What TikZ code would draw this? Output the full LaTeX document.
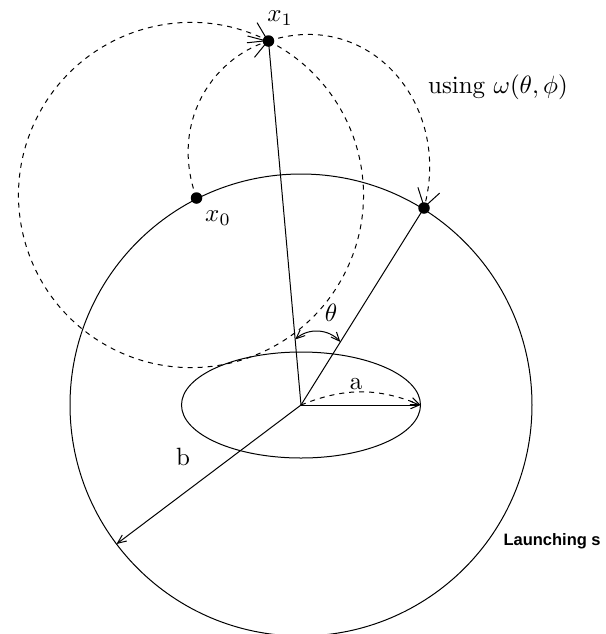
\documentclass[tikz,border=0pt]{standalone}
\usepackage{fontspec}
\newfontfamily\launchfont{Liberation Sans}
\usetikzlibrary{arrows.meta,calc}
\begin{document}
\begin{tikzpicture}[x=0.4pt,y=0.4pt,
  dot/.style={circle,fill,inner sep=0pt,minimum size=4.6pt},
  walk/.style={dash pattern=on 2pt off 2pt},
  bigtip/.style={-{Straight Barb[length=7pt,width=9pt]}},
  >={Straight Barb[length=3.5pt,width=3pt]}]
\useasboundingbox (0,0) rectangle (606,-634);
\coordinate (c) at (301,-405);
\coordinate (x0) at (196.5,-198);
\coordinate (x1) at (268.5,-41);
\coordinate (p) at (424,-208);
\coordinate (aend) at ($(c)+(119.5,0)$);
\coordinate (bpt) at ($(c)+(217:231)$);
% sphere and ellipse
\draw (c) circle[radius=231];
\draw (c) ellipse[x radius=119.5,y radius=53];
\draw (c) -- (x1);
\draw (c) -- (p);
\draw[->] (c) -- (aend);
\draw[->,walk] (c) to[bend left=22] (aend);
\draw[->] (c) -- (bpt);
\draw[<->] ($(c)!0.18!(x1)$) to[bend left=45] ($(c)!0.32!(p)$);
% the walk
\draw[walk,bigtip] (x1) arc[start angle=423.3,end angle=63.3,radius=172.5];
\draw[walk,bigtip] (x0) .. controls (170,-125) and (210,-60) .. (x1);
\draw[walk,bigtip] (x1) to[out=18,in=75,looseness=1.2] (p);
\node[dot] (x0dot) at (x0) {};
\node[dot] (x1dot) at (x1) {};
\node[dot] (pdot) at (p) {};
% labels
\node (x1lab) at (280,-18) {$x_1$};
\node (x0lab) at (218,-218) {$x_0$};
\node (using) at (498,-87) {using $\omega(\theta,\phi)$};
\node (thetalab) at (331,-313) {$\theta$};
\node (alab) at (356,-384) {a};
\node (blab) at (183,-457) {b};
\node[anchor=base west,inner sep=0pt,font=\launchfont\bfseries\fontsize{6.6}{8}\selectfont] (launch) at (503,-545) {Launching s};
\end{tikzpicture}
\end{document}
